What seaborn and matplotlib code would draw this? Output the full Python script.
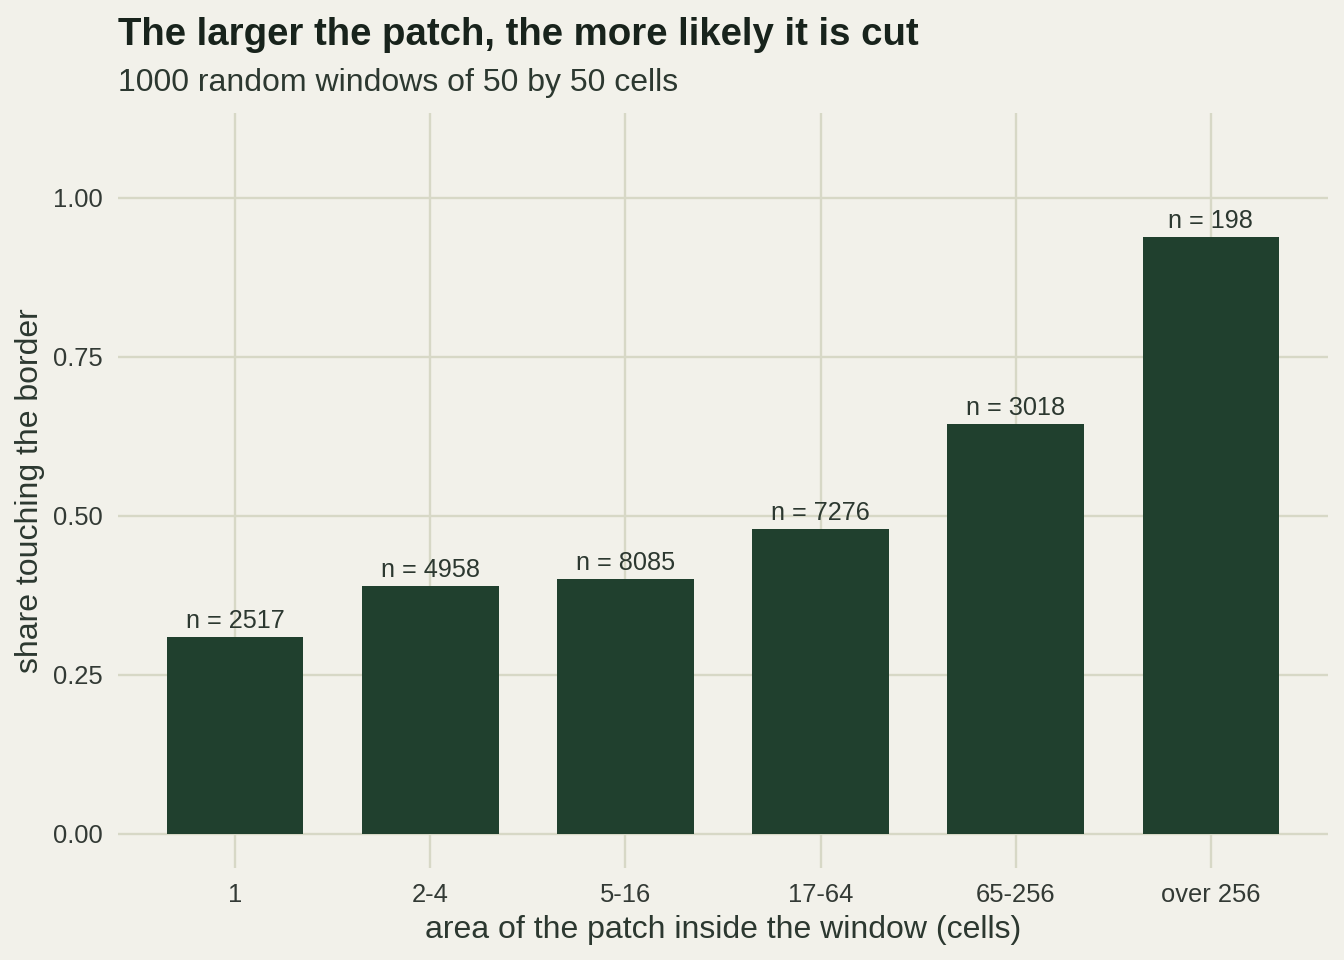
import matplotlib
matplotlib.use("Agg")
import matplotlib.pyplot as plt
import seaborn as sns
import pandas as pd

# ---- data ----
categories = ["1", "2-4", "5-16", "17-64", "65-256", "over 256"]
share_touching = [0.310, 0.390, 0.401, 0.480, 0.645, 0.938]
counts = [2517, 4958, 8085, 7276, 3018, 198]
y_ticks = [0.00, 0.25, 0.50, 0.75, 1.00]
y_tick_labels = ["0.00", "0.25", "0.50", "0.75", "1.00"]

title = "The larger the patch, the more likely it is cut"
subtitle = "1000 random windows of 50 by 50 cells"
x_title = "area of the patch inside the window (cells)"
y_title = "share touching the border"

# ---- style ----
BG = "#f2f1ea"
GRID = "#d7d8c6"
BAR = "#20402e"
TITLE_C = "#18231c"
TEXT_C = "#2c3830"
TICK_C = "#333a35"

sns.set_theme(style="whitegrid")
plt.rcParams["font.family"] = ["Liberation Sans", "DejaVu Sans"]

df = pd.DataFrame({"area": categories, "share": share_touching, "n": counts})

fig = plt.figure(figsize=(13.44, 9.6), dpi=100, facecolor=BG)
ax = fig.add_axes([118 / 1344, 92 / 960, 1210 / 1344, 755 / 960])
ax.set_facecolor(BG)

sns.barplot(data=df, x="area", y="share", color=BAR, width=0.7,
            saturation=1, ax=ax, zorder=3, linewidth=0, edgecolor=BAR)

ax.set_xlim(-0.6, 5.6)
ax.set_ylim(-0.0535, 1.1336)
ax.set_yticks(y_ticks)
ax.set_yticklabels(y_tick_labels)

ax.grid(True, color=GRID, linewidth=1.7, zorder=0)
ax.set_axisbelow(True)
for s in ax.spines.values():
    s.set_visible(False)

ax.tick_params(axis="x", length=0, pad=10.5, labelsize=18.4, labelcolor=TICK_C)
ax.tick_params(axis="y", length=0, pad=11, labelsize=18.4, labelcolor=TICK_C)

ax.set_xlabel(x_title, fontsize=23, color=TEXT_C, va="top")
ax.xaxis.set_label_coords(0.5, -0.0625)
ax.set_ylabel(y_title, fontsize=23, color=TEXT_C)
ax.yaxis.set_label_coords(-0.0603, 0.5)

for i, (v, n) in enumerate(zip(share_touching, counts)):
    ax.annotate(f"n = {n}", xy=(i, v), xytext=(0, 6.5), textcoords="offset points",
                ha="center", va="baseline", fontsize=18.2, color=TEXT_C)

fig.text(118 / 1344, 1 - 45 / 960, title, fontsize=27.6, fontweight="bold",
         color=TITLE_C, ha="left", va="baseline")
fig.text(118 / 1344, 1 - 91 / 960, subtitle, fontsize=23, color=TEXT_C,
         ha="left", va="baseline")

fig.savefig("out.png", dpi=100, facecolor=BG)
